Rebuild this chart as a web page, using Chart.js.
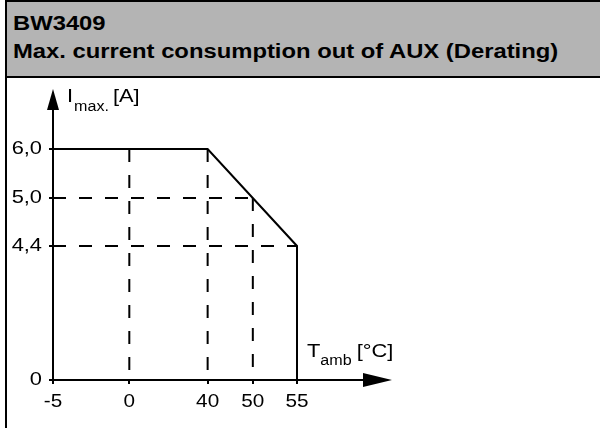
<!DOCTYPE html>
<html>
<head>
  <title>BW3409 Derating</title>
  <script src="https://cdn.jsdelivr.net/npm/chart.js"></script>
  <style>
    body { margin: 0; background: #fff; }
    #page { position: relative; width: 600px; height: 428px; overflow: hidden; }
    #myChart { position: absolute; left: 0; top: 0; }
    #head {
      position: absolute; left: 5px; top: 0; width: 595px; height: 74px;
      background: #b4b4b4; border-top: 2px solid #000; border-bottom: 2px solid #000;
    }
    #leftLine { position: absolute; left: 5px; top: 0; width: 2px; height: 428px; background: #000; }
    .hline {
      position: absolute; left: 8px; white-space: nowrap;
      font: bold 20px "Liberation Sans", Arial, sans-serif; line-height: 20px; color: #000;
      transform: scaleX(1.19); transform-origin: 0 0;
    }
  </style>
</head>
<body>
  <div id="page">
    <canvas id="myChart" width="600" height="428"></canvas>
    <div id="head">
      <div class="hline" style="top: 11px;">BW3409</div>
      <div class="hline" style="top: 39px;">Max. current consumption out of AUX (Derating)</div>
    </div>
    <div id="leftLine"></div>
  </div>

  <script>
    // Valores del eje X (temperatura ambiente, °C)
    var tempTicks = [-5, 0, 40, 50, 55];
    var tempLabels = ['-5', '0', '40', '50', '55'];

    // Valores del eje Y (corriente máxima, A)
    var currentTicks = [0, 4.4, 5.0, 6.0];
    var currentLabels = ['0', '4,4', '5,0', '6,0'];

    // Curva de derating
    var curveTemp = [-5, 40, 55, 55];
    var curveCurrent = [6.0, 6.0, 4.4, 0];

    // Lineas auxiliares discontinuas
    var vGuideTemp = [0, 40, 50];
    var vGuideTop = [6.0, 6.0, 5.0];
    var hGuideCurrent = [5.0, 4.4];
    var hGuideEnd = [50, 55];

    var FONT = "'Liberation Sans', Arial, sans-serif";
    var STRETCH = 1.15;

    // Escala esquemática: cada tramo entre ticks tiene su propio largo
    class SchematicScale extends Chart.LinearScale {
      _frac(v) {
        var s = this.options.stops, w = this.options.weights;
        var total = w.reduce(function(a, b) { return a + b; }, 0);
        var acc = 0;
        for (var i = 0; i < w.length; i++) {
          if (v <= s[i + 1] || i === w.length - 1) {
            return (acc + w[i] * (v - s[i]) / (s[i + 1] - s[i])) / total;
          }
          acc += w[i];
        }
        return 0;
      }
      getPixelForValue(v) {
        if (v === null || isNaN(v)) return NaN;
        return this.getPixelForDecimal(this._frac(v));
      }
      drawLabels() {
        var ctx = this.ctx;
        this.getLabelItems().forEach(function(item) {
          var o = item.options;
          ctx.save();
          ctx.translate(o.translation[0], o.translation[1]);
          ctx.scale(STRETCH, 1);
          ctx.font = item.font.string;
          ctx.fillStyle = o.color;
          ctx.textAlign = o.textAlign;
          ctx.textBaseline = o.textBaseline;
          ctx.fillText(item.label, 0, item.textOffset);
          ctx.restore();
        });
      }
    }
    SchematicScale.id = 'schematic';
    SchematicScale.defaults = Chart.LinearScale.defaults;
    Chart.register(SchematicScale);

    function stretchedText(ctx, text, x, y, size, align) {
      ctx.save();
      ctx.translate(x, y);
      ctx.scale(STRETCH, 1);
      ctx.font = size + 'px ' + FONT;
      ctx.textAlign = align || 'left';
      ctx.textBaseline = 'alphabetic';
      ctx.fillText(text, 0, 0);
      var w = ctx.measureText(text).width * STRETCH;
      ctx.restore();
      return w;
    }

    // Ejes con flechas y titulos
    var axisArrows = {
      id: 'axisArrows',
      afterDatasetsDraw: function(chart) {
        var ctx = chart.ctx;
        var area = chart.chartArea;
        var x0 = area.left, y0 = area.bottom;
        var yTip = area.top - 60, xTip = area.right + 95;
        ctx.save();
        ctx.strokeStyle = '#000';
        ctx.fillStyle = '#000';
        ctx.lineWidth = 2;
        ctx.beginPath();
        ctx.moveTo(x0, y0 + 4);
        ctx.lineTo(x0, yTip + 15);
        ctx.moveTo(x0 - 4, y0);
        ctx.lineTo(xTip - 20, y0);
        ctx.stroke();
        ctx.beginPath();
        ctx.moveTo(x0, yTip);
        ctx.lineTo(x0 - 6, yTip + 21);
        ctx.lineTo(x0 + 6, yTip + 21);
        ctx.closePath();
        ctx.fill();
        ctx.beginPath();
        ctx.moveTo(xTip, y0);
        ctx.lineTo(xTip - 29, y0 - 7);
        ctx.lineTo(xTip - 29, y0 + 7);
        ctx.closePath();
        ctx.fill();

        var w = stretchedText(ctx, 'I', x0 + 14, yTip + 13, 19);
        var w2 = stretchedText(ctx, 'max.', x0 + 14 + w + 1, yTip + 22, 14);
        stretchedText(ctx, '[A]', x0 + 14 + w + w2 + 5, yTip + 13, 19);

        var tx = area.right + 10, ty = y0 - 23;
        w = stretchedText(ctx, 'T', tx, ty, 19);
        w2 = stretchedText(ctx, 'amb', tx + w, ty + 8, 14);
        stretchedText(ctx, '[°C]', tx + w + w2 + 5, ty, 19);
        ctx.restore();
      }
    };

    function line(xs, ys, dashed) {
      return {
        data: xs.map(function(x, i) { return { x: x, y: ys[i] }; }),
        showLine: true,
        borderColor: '#000',
        borderWidth: 2,
        borderDash: dashed ? [13, 13] : [],
        borderJoinStyle: 'miter',
        borderCapStyle: 'butt',
        pointRadius: 0,
        fill: false,
        clip: false,
        order: dashed ? 1 : 0
      };
    }

    var datasets = [line(curveTemp, curveCurrent, false)];
    vGuideTemp.forEach(function(t, i) {
      datasets.push(line([t, t], [vGuideTop[i], 0], true));
    });
    hGuideCurrent.forEach(function(c, i) {
      datasets.push(line([tempTicks[0], hGuideEnd[i]], [c, c], true));
    });

    var ctx = document.getElementById('myChart').getContext('2d');
    var myChart = new Chart(ctx, {
      type: 'scatter',
      data: { datasets: datasets },
      options: {
        responsive: false,
        animation: false,
        devicePixelRatio: 1,
        events: [],
        layout: { padding: { left: 0, top: 149, right: 303, bottom: 0 } },
        plugins: { legend: { display: false }, tooltip: { enabled: false } },
        scales: {
          x: {
            type: 'schematic',
            stops: tempTicks,
            weights: [76, 78, 45, 44],
            min: -5, max: 55,
            border: { display: false },
            grid: { drawOnChartArea: false, drawTicks: true, tickLength: 4, color: '#000', lineWidth: 2 },
            ticks: {
              autoSkip: false, maxRotation: 0, padding: 7, color: '#000',
              font: { family: FONT, size: 18 },
              callback: function(v, i) { return tempLabels[i]; }
            },
            afterBuildTicks: function(s) { s.ticks = tempTicks.map(function(v) { return { value: v }; }); },
            afterFit: function(s) { s.height = 48; }
          },
          y: {
            type: 'schematic',
            stops: currentTicks,
            weights: [134, 48, 49],
            min: 0, max: 6,
            border: { display: false },
            grid: { drawOnChartArea: false, drawTicks: true, tickLength: 4, color: '#000', lineWidth: 2 },
            ticks: {
              autoSkip: false, padding: 7, color: '#000',
              font: { family: FONT, size: 19 },
              callback: function(v, i) { return currentLabels[i]; }
            },
            afterBuildTicks: function(s) { s.ticks = currentTicks.map(function(v) { return { value: v }; }); },
            afterFit: function(s) { s.width = 53; }
          }
        }
      },
      plugins: [axisArrows]
    });
  </script>
</body>
</html>
